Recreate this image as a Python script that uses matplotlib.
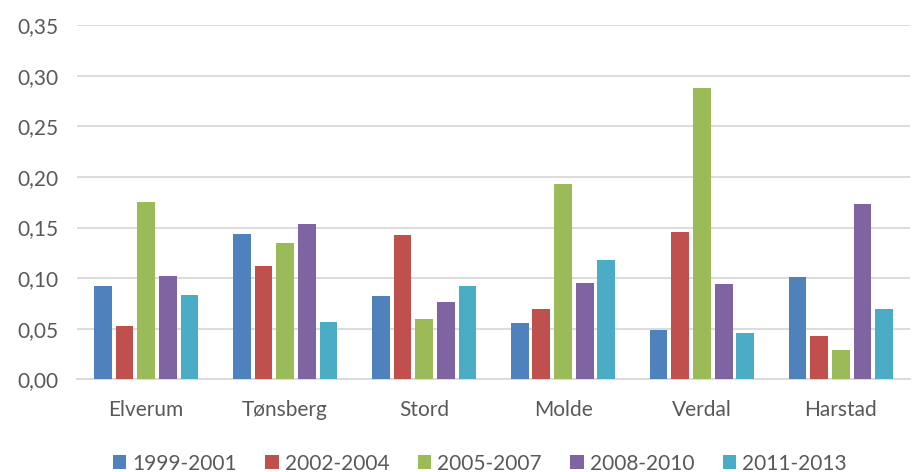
import numpy as np
import matplotlib
matplotlib.use("Agg")
import matplotlib.pyplot as plt

# ── data ────────────────────────────────────────────
towns   = ["Elverum", "Tønsberg", "Stord", "Molde", "Verdal", "Harstad"]
periods = ["1999-2001", "2002-2004", "2005-2007", "2008-2010", "2011-2013"]

v1999 = [0.092, 0.144, 0.082, 0.056, 0.049, 0.101]
v2002 = [0.053, 0.112, 0.143, 0.070, 0.146, 0.043]
v2005 = [0.175, 0.135, 0.060, 0.193, 0.288, 0.029]
v2008 = [0.102, 0.154, 0.077, 0.095, 0.094, 0.173]
v2011 = [0.083, 0.057, 0.092, 0.118, 0.046, 0.070]

series = [v1999, v2002, v2005, v2008, v2011]
colors = ["#4F81BD", "#C0504D", "#9BBB59", "#8064A2", "#4BACC6"]

TEXT = "#595959"
GRID = "#D9D9D9"
plt.rcParams["font.family"] = ["Lato", "DejaVu Sans"]

fig = plt.figure(figsize=(9.14, 4.72), dpi=100)
ax = fig.add_axes([0.084, 0.196, 0.912, 0.751])

x = np.arange(len(towns))
step = 0.156
for i, (vals, col) in enumerate(zip(series, colors)):
    ax.bar(x + (i - 2) * step, vals, width=0.128, color=col,
           label=periods[i], zorder=3)

ax.set_xlim(-0.5, len(towns) - 0.5)
ax.set_ylim(0, 0.35)
yt = np.arange(0, 0.351, 0.05)
ax.set_yticks(yt)
ax.set_yticklabels([f"{t:.2f}".replace(".", ",") for t in yt])
ax.set_xticks(x)
ax.set_xticklabels(towns)

ax.grid(axis="y", color=GRID, linewidth=1.3, zorder=0)
for s in ["top", "right", "left"]:
    ax.spines[s].set_visible(False)
ax.spines["bottom"].set_color(GRID)
ax.spines["bottom"].set_linewidth(1.3)
ax.tick_params(axis="both", length=0, colors=TEXT, labelsize=15)
ax.tick_params(axis="y", pad=13)
ax.tick_params(axis="x", pad=15)

fig.legend(loc="center", bbox_to_anchor=(0.525, 0.018), ncol=5,
           frameon=False, fontsize=15, labelcolor=TEXT,
           handlelength=0.65, handleheight=0.65, handletextpad=0.3,
           columnspacing=1.35)

fig.savefig("out.png", dpi=100)
